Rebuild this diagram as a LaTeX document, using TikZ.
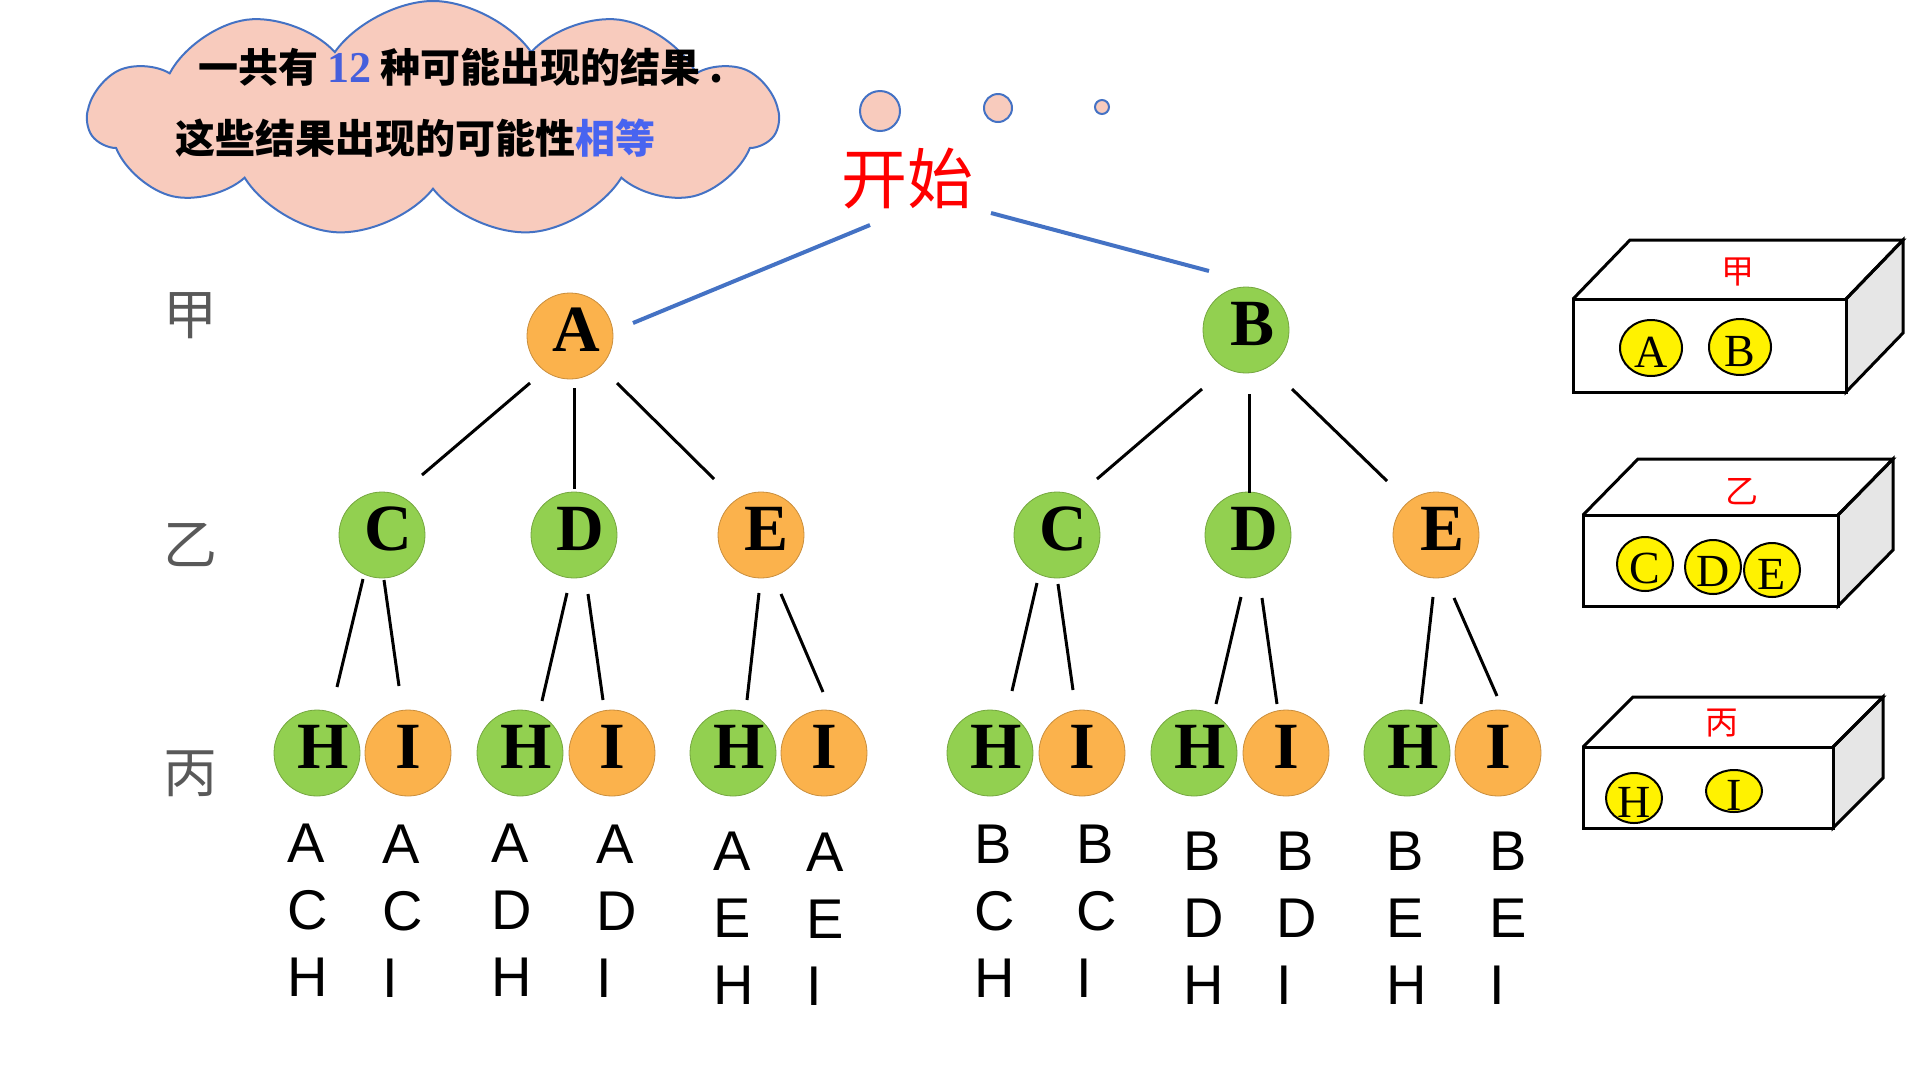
\documentclass[tikz,border=0pt]{standalone}
\usepackage{fontspec}
\setmainfont{Liberation Serif}
\newfontfamily\cjk{Noto Sans CJK SC}
\newfontfamily\arialf{Liberation Sans}
\usetikzlibrary{shapes.symbols,shapes.geometric,calc}
\definecolor{ngreen}{RGB}{146,208,80}
\definecolor{norange}{RGB}{251,178,76}
\definecolor{cpink}{RGB}{248,203,189}
\definecolor{cblue}{RGB}{68,114,196}
\definecolor{tblue}{RGB}{72,100,240}
\definecolor{nblue}{RGB}{70,95,220}
\definecolor{lgray}{RGB}{89,89,89}
\definecolor{sidegray}{RGB}{230,230,230}
\newcommand{\rs}[1]{\kern12pt #1}
\begin{document}
\begin{tikzpicture}[x=1pt,y=-1pt,
  ball/.style={circle, inner sep=0pt, minimum size=86pt,
    font=\fontsize{66}{66}\selectfont\bfseries, text height=44pt, text depth=14pt, line width=0.8pt},
  gball/.style={ball, fill=ngreen, draw=ngreen!80!black},
  oball/.style={ball, fill=norange, draw=norange!80!black},
  link/.style={line width=3pt, black},
  blink/.style={line width=4pt, cblue},
  ybox/.style={ellipse, fill=yellow, draw=black, line width=2pt, inner sep=0pt},
  ylab/.style={font=\fontsize{46}{46}\selectfont, inner sep=0pt, yshift=-4pt},
  boxline/.style={line width=3pt, black, line join=miter},
  res/.style={font=\arialf\fontsize{56}{67}\selectfont, inner sep=0pt, anchor=base west},
  lvl/.style={font=\cjk\fontsize{54}{54}\selectfont, text=lgray, inner sep=0pt},
  boxlab/.style={font=\cjk\fontsize{33}{33}\selectfont, text=red, inner sep=0pt},
  bubble/.style={circle, fill=cpink, draw=cblue, line width=2pt, inner sep=0pt}
]
\useasboundingbox (0,0) rectangle (1920,1080);

% cloud
\node[cloud, cloud puffs=11, cloud puff arc=110, aspect=2.9, fill=cpink, draw=cblue,
  line width=2pt, minimum width=689pt, minimum height=236pt, inner sep=0pt] (cloud) at (433,119) {};
\node[anchor=west, inner sep=0pt, font=\cjk\bfseries\fontsize{40}{40}\selectfont] (t1) at (198,67)
  {一共有 {\rmfamily\bfseries\fontsize{44}{44}\selectfont\textcolor{nblue}{12}} 种可能出现的结果 .};
\node[anchor=west, inner sep=0pt, font=\cjk\bfseries\fontsize{40}{40}\selectfont] (t2) at (175,138)
  {这些结果出现的可能性\textcolor{tblue}{相等}};

% thought bubbles
\node[bubble, minimum size=40pt] (bb1) at (880,111) {};
\node[bubble, minimum size=28pt] (bb2) at (998,108) {};
\node[bubble, minimum size=14pt] (bb3) at (1102,107) {};

% start
\node[font=\cjk\fontsize{66}{66}\selectfont, text=red, inner sep=0pt] (start) at (907,179) {开始};

% level labels
\node[lvl] (jia) at (190,316) {甲};
\node[lvl] (yi) at (190,545) {乙};
\node[lvl] (bing) at (190,774) {丙};

% tree nodes
\node[oball] (A) at (570,336) {\rs{A}};
\node[gball] (B) at (1246,330) {\rs{B}};
\node[gball] (C1) at (382,535) {\rs{C}};
\node[gball] (D1) at (574,535) {\rs{D}};
\node[oball] (E1) at (761,535) {\rs{E}};
\node[gball] (C2) at (1057,535) {\rs{C}};
\node[gball] (D2) at (1248,535) {\rs{D}};
\node[oball] (E2) at (1436,535) {\rs{E}};
\node[gball] (H1) at (317,753) {\rs{H}};
\node[oball] (I1) at (408,753) {I};
\node[gball] (H2) at (520,753) {\rs{H}};
\node[oball] (I2) at (612,753) {I};
\node[gball] (H3) at (733,753) {\rs{H}};
\node[oball] (I3) at (824,753) {I};
\node[gball] (H4) at (990,753) {\rs{H}};
\node[oball] (I4) at (1082,753) {I};
\node[gball] (H5) at (1194,753) {\rs{H}};
\node[oball] (I5) at (1286,753) {I};
\node[gball] (H6) at (1407,753) {\rs{H}};
\node[oball] (I6) at (1498,753) {I};

% blue connectors
\draw[blink] ([shift={(-37,46)}]start.center) -- ([shift={(63,-13)}]A.center);
\draw[blink] ([shift={(84,34)}]start.center) -- ([shift={(-37,-59)}]B.center);

% level 1 -> 2
\draw[link] ([shift={(-40,47)}]A.center) -- ([shift={(40,-60)}]C1.center);
\draw[link] ([shift={(4,52)}]A.center) -- ([shift={(0,-46)}]D1.center);
\draw[link] ([shift={(47,47)}]A.center) -- ([shift={(-47,-56)}]E1.center);
\draw[link] ([shift={(-44,59)}]B.center) -- ([shift={(40,-56)}]C2.center);
\draw[link] ([shift={(3,64)}]B.center) -- ([shift={(1,-42)}]D2.center);
\draw[link] ([shift={(46,59)}]B.center) -- ([shift={(-49,-54)}]E2.center);

% level 2 -> 3
\draw[link] ([shift={(-19,44)}]C1.center) -- ([shift={(20,-66)}]H1.center);
\draw[link] ([shift={(2,45)}]C1.center) -- ([shift={(-9,-67)}]I1.center);
\draw[link] ([shift={(-7,58)}]D1.center) -- ([shift={(22,-52)}]H2.center);
\draw[link] ([shift={(14,59)}]D1.center) -- ([shift={(-9,-53)}]I2.center);
\draw[link] ([shift={(-2,58)}]E1.center) -- ([shift={(14,-53)}]H3.center);
\draw[link] ([shift={(20,59)}]E1.center) -- ([shift={(-1,-61)}]I3.center);
\draw[link] ([shift={(-20,48)}]C2.center) -- ([shift={(22,-62)}]H4.center);
\draw[link] ([shift={(1,49)}]C2.center) -- ([shift={(-9,-63)}]I4.center);
\draw[link] ([shift={(-7,62)}]D2.center) -- ([shift={(22,-49)}]H5.center);
\draw[link] ([shift={(14,63)}]D2.center) -- ([shift={(-9,-49)}]I5.center);
\draw[link] ([shift={(-3,62)}]E2.center) -- ([shift={(14,-49)}]H6.center);
\draw[link] ([shift={(18,63)}]E2.center) -- ([shift={(-1,-57)}]I6.center);

% result columns
\foreach \x/\y/\a/\b/\c [count=\i] in {287/862/A/C/H, 382/863/A/C/I, 491/862/A/D/H, 596/863/A/D/I,
  713/870/A/E/H, 806/871/A/E/I, 974/863/B/C/H, 1076/863/B/C/I, 1183/870/B/D/H, 1276/870/B/D/I,
  1386/870/B/E/H, 1489/870/B/E/I} {
  \node[res] (r\i-1) at (\x,\y) {\a};
  \node[res] (r\i-2) at (\x,\y+67) {\b};
  \node[res] (r\i-3) at (\x,\y+134) {\c};
}

% box 1
\fill[white] (1573,299) -- (1630,240) -- (1903,240) -- (1846,299) -- cycle;
\draw[boxline, fill=sidegray] (1846,299) -- (1903,240) -- (1903,333) -- (1846,392) -- cycle;
\draw[boxline] (1573,299) -- (1630,240) -- (1903,240) -- (1846,299);
\draw[boxline, fill=white] (1573,299) rectangle (1846,392);
\node[boxlab] (lab1) at (1738,272) {甲};
\node[ybox, minimum width=62pt, minimum height=56pt, label={[ylab]center:A}] (bA) at (1651,348) {};
\node[ybox, minimum width=62pt, minimum height=56pt, label={[ylab]center:B}] (bB) at (1740,347) {};

% box 2
\fill[white] (1583,515) -- (1638,459) -- (1893,459) -- (1838,515) -- cycle;
\draw[boxline, fill=sidegray] (1838,515) -- (1893,459) -- (1893,550) -- (1838,606) -- cycle;
\draw[boxline] (1583,515) -- (1638,459) -- (1893,459) -- (1838,515);
\draw[boxline, fill=white] (1583,515) rectangle (1838,606);
\node[boxlab] (lab2) at (1742,492) {乙};
\node[ybox, minimum width=56pt, minimum height=54pt, label={[ylab]center:C}] (bC) at (1645,564) {};
\node[ybox, minimum width=56pt, minimum height=54pt, label={[ylab]center:D}] (bD) at (1713,567) {};
\node[ybox, minimum width=56pt, minimum height=54pt, label={[ylab]center:E}] (bE) at (1772,570) {};

% box 3
\fill[white] (1583,747) -- (1633,697) -- (1883,697) -- (1833,747) -- cycle;
\draw[boxline, fill=sidegray] (1833,747) -- (1883,697) -- (1883,778) -- (1833,828) -- cycle;
\draw[boxline] (1583,747) -- (1633,697) -- (1883,697) -- (1833,747);
\draw[boxline, fill=white] (1583,747) rectangle (1833,828);
\node[boxlab] (lab3) at (1722,723) {丙};
\node[ybox, minimum width=56pt, minimum height=50pt, label={[ylab]center:H}] (bH) at (1634,798) {};
\node[ybox, minimum width=56pt, minimum height=42pt, label={[ylab]center:I}] (bI) at (1734,791) {};
\end{tikzpicture}
\end{document}
